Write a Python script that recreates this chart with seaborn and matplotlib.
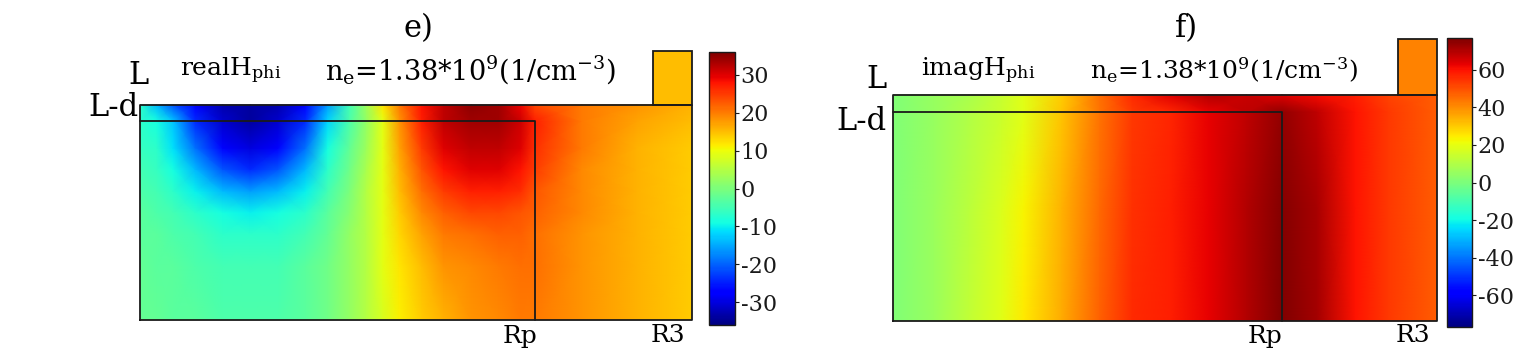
import numpy as np
import matplotlib
matplotlib.use("Agg")
import matplotlib.pyplot as plt
from matplotlib.colors import Normalize
from matplotlib.patches import Rectangle
import seaborn as sns

W, H = 1539, 360

# normalised geometry: R3 = 1, L = 1
RP = 0.715      # inner radius Rp
LD = 0.926      # height L-d
BOX_R = 0.929   # left edge of top-right stub
BOX_TOP = 1.25

# panel e) real part of H_phi (rows bottom -> top)
r_e = [0, 0.03, 0.06, 0.1, 0.15, 0.2, 0.25, 0.3, 0.34, 0.38, 0.41,
       0.44, 0.47, 0.51, 0.55, 0.6, 0.65, 0.69, 0.715, 0.8, 0.9, 1.0]
z_e = [0, 0.25, 0.4, 0.5, 0.6, 0.7, 0.8, 0.926, 1.0]
real_h = [
    [-2, -2, -3, -3, -4, -4, -4, -3, -1, 2, 5, 8, 11, 14, 16, 18, 19, 20, 20, 18, 16, 14],
    [-2, -3, -3, -4, -5, -5, -5, -3, -1, 2, 5, 9, 12, 15, 18, 19, 20, 21, 21, 18, 16, 14],
    [-3, -3, -4, -5, -7, -7, -7, -5, -2, 2, 5, 9, 13, 17, 20, 21, 22, 22, 21, 18, 16, 14],
    [-3, -4, -5, -7, -9, -10, -9, -7, -3, 1, 5, 9, 14, 19, 22, 24, 24, 23, 22, 19, 16, 14],
    [-4, -5, -7, -10, -14, -16, -14, -10, -5, 0, 5, 9, 15, 21, 25, 27, 27, 26, 23, 19, 16, 14],
    [-5, -6, -9, -14, -21, -24, -21, -14, -7, -1, 4, 9, 16, 23, 28, 30, 30, 28, 25, 19, 16, 14],
    [-6, -7, -11, -19, -27, -30, -27, -19, -9, -2, 3, 9, 17, 25, 30, 32, 32, 30, 26, 20, 16, 14],
    [-7, -9, -13, -24, -31, -34, -31, -24, -12, -4, 2, 9, 18, 27, 32, 34, 34, 31, 27, 20, 17, 15],
    [-7, -14, -21, -28, -33, -34, -33, -27, -16, -5, 3, 12, 20, 28, 32, 35, 34, 29, 24, 20, 18, 16],
]
real_box = 15
real_lim = 36
real_ticks = [-30, -20, -10, 0, 10, 20, 30]

# panel f) imaginary part of H_phi
r_f = [0, 0.075, 0.14, 0.2, 0.24, 0.31, 0.38, 0.44, 0.51, 0.58, 0.65, 0.715, 0.78, 0.85, 0.91, 1.0]
z_f = [0, 0.5, 0.926, 1.0]
imag_h = [
    [1, 6, 13, 19, 25, 35, 47, 56, 58, 63, 70, 77, 72, 60, 54, 48],
    [1, 6, 12, 18, 23, 34, 46, 55, 58, 63, 70, 76, 71, 60, 54, 48],
    [1, 5, 10, 15, 19, 31, 44, 54, 57, 63, 68, 74, 68, 60, 54, 48],
    [1, 5, 9, 14, 19, 30, 45, 56, 64, 70, 67, 64, 61, 58, 52, 48],
]
imag_box = 42
imag_lim = 77
imag_ticks = [-60, -40, -20, 0, 20, 40, 60]

sns.set_theme(style="white")
plt.rcParams["font.family"] = ["DejaVu Serif"]
plt.rcParams["mathtext.fontset"] = "dejavuserif"
plt.rcParams["axes.unicode_minus"] = False
for key in ["text.color", "axes.labelcolor", "xtick.color", "ytick.color"]:
    plt.rcParams[key] = "black"
cmap = matplotlib.colormaps["jet"]

fig = plt.figure(figsize=(W / 100, H / 100), dpi=100)


def fx(x):
    return x / W


def fy(y):
    return 1 - y / H


def panel(left, right, bottom, top, r, z, vals, box_val, lim, ticks, cb_box):
    box_px = bottom - BOX_TOP * (bottom - top)
    ax = fig.add_axes([fx(left), fy(bottom), (right - left) / W, (bottom - box_px) / H])
    norm = Normalize(-lim, lim)
    mesh = ax.pcolormesh(r, z, np.array(vals, dtype=float), shading="gouraud", cmap=cmap, norm=norm)
    ax.set_xlim(0, 1)
    ax.set_ylim(0, BOX_TOP)
    ax.axis("off")
    kw = dict(color="k", lw=1.3, clip_on=False)
    ax.plot([0, 1, 1, 0, 0], [0, 0, 1, 1, 0], **kw)
    ax.plot([0, RP, RP], [LD, LD, 0], **kw)
    ax.add_patch(Rectangle((BOX_R, 1), 1 - BOX_R, BOX_TOP - 1, facecolor=cmap(norm(box_val)),
                           edgecolor="k", lw=1.3, clip_on=False))
    cx0, cx1, cy0, cy1 = cb_box
    cax = fig.add_axes([fx(cx0), fy(cy1), (cx1 - cx0) / W, (cy1 - cy0) / H])
    cb = fig.colorbar(mesh, cax=cax, ticks=ticks)
    cb.outline.set_linewidth(1.0)
    cb.outline.set_edgecolor("k")
    cax.tick_params(direction="inout", length=6, width=0.8, labelsize=16, pad=1, colors="k")
    return ax


panel(140, 692, 320, 105, r_e, z_e, real_h, real_box, real_lim, real_ticks, (709, 735, 52, 325))
panel(893, 1437, 321, 95, r_f, z_f, imag_h, imag_box, imag_lim, imag_ticks, (1447, 1472, 38, 327))

big = 22
lab = 18
edge = 18
# panel e texts
fig.text(fx(418), fy(29), "e)", fontsize=big, ha="center", va="center")
fig.text(fx(149), fy(75), "L", fontsize=big, ha="right", va="center")
fig.text(fx(139), fy(107), "L-d", fontsize=big, ha="right", va="center")
fig.text(fx(180), fy(71), r"realH$_{\rm phi}$", fontsize=lab, ha="left", va="center")
fig.text(fx(325), fy(70), r"n$_{\rm e}$=1.38*10$^{9}$(1/cm$^{-3}$)", fontsize=19.5, ha="left", va="center")
fig.text(fx(520), fy(336), "Rp", fontsize=edge, ha="center", va="center")
fig.text(fx(668), fy(336), "R3", fontsize=edge, ha="center", va="center")
# panel f texts
fig.text(fx(1186), fy(29), "f)", fontsize=big, ha="center", va="center")
fig.text(fx(887), fy(80), "L", fontsize=big, ha="right", va="center")
fig.text(fx(886), fy(121), "L-d", fontsize=big, ha="right", va="center")
fig.text(fx(921), fy(71), r"imagH$_{\rm phi}$", fontsize=lab, ha="left", va="center")
fig.text(fx(1090), fy(70), r"n$_{\rm e}$=1.38*10$^{9}$(1/cm$^{-3}$)", fontsize=18, ha="left", va="center")
fig.text(fx(1265), fy(336), "Rp", fontsize=edge, ha="center", va="center")
fig.text(fx(1413), fy(336), "R3", fontsize=edge, ha="center", va="center")

fig.savefig("out.png", dpi=100)
